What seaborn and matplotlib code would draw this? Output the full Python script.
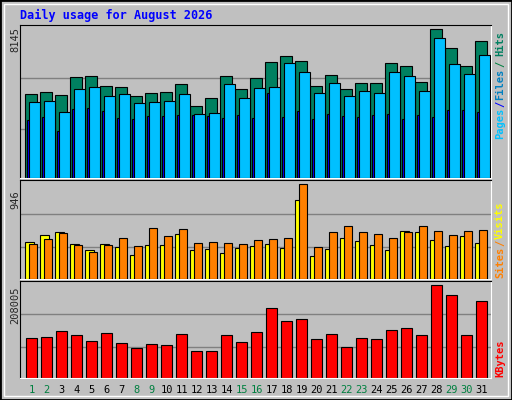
import numpy as np
import matplotlib
matplotlib.use("Agg")
import matplotlib.pyplot as plt
import seaborn as sns
from matplotlib.patches import Rectangle

sns.set_style("white")
plt.rcParams["font.family"] = ["DejaVu Sans Mono", "DejaVu Sans"]

# ── Data ──────────────────────────────────────────────────────────────────
days = list(range(1, 32))
weekend = {1, 2, 8, 9, 15, 16, 22, 23, 29, 30}
HITS_MAX, SITES_MAX, KB_MAX = 8145, 946, 208005

hits_px  = [280,273,283,229,226,256,259,286,277,273,250,316,292,226,265,232,184,166,181,256,223,265,247,247,187,196,244,88,142,196,124]
files_px = [304,301,334,265,259,286,280,307,304,301,280,340,337,250,292,262,259,187,214,277,247,286,271,277,214,226,271,115,190,220,163]
pages_px = [358,349,391,325,322,331,352,355,346,346,343,343,346,352,343,352,277,349,331,355,340,346,349,343,340,355,343,349,328,328,334]
visits_px = [196,175,166,202,220,202,211,232,205,205,172,220,217,226,214,208,202,214,73,235,217,184,193,205,220,163,166,190,208,178,199]
sites_px  = [202,187,169,205,223,205,184,208,154,178,157,199,196,199,202,190,187,184,28,211,166,148,166,172,184,166,148,163,175,163,160]
kb_px = [484,481,463,475,493,469,499,514,502,505,472,523,523,475,496,466,397,433,427,487,472,511,484,487,460,454,475,328,358,475,376]

hits  = [round((530 - p) / 442 * HITS_MAX) for p in hits_px]
files = [round((530 - p) / 442 * HITS_MAX) for p in files_px]
pages = [round((530 - p) / 442 * HITS_MAX) for p in pages_px]
visits = [round((303 - p) / 275 * SITES_MAX) for p in visits_px]
sites  = [round((303 - p) / 275 * SITES_MAX) for p in sites_px]
kbytes = [round((601 - p) / 273 * KB_MAX) for p in kb_px]

GRAY = "#C0C0C0"
fig = plt.figure(figsize=(5.12, 4.0), dpi=100, facecolor=GRAY)
W, H = 512, 400

def axes_px(x0, y0, x1, y1):
    return fig.add_axes([x0 / W, 1 - y1 / H, (x1 - x0) / W, (y1 - y0) / H])

x = np.arange(31)
XL = (-0.353, 31.05)

def style(ax, top):
    ax.set_facecolor(GRAY)
    ax.set_xlim(*XL)
    ax.set_ylim(0, top)
    for f in (0.32, 0.655):
        ax.axhline(top * f, color="#808080", lw=1, zorder=0)
    ax.set_xticks([]); ax.set_yticks([])
    for s in ("left", "top"):
        ax.spines[s].set_color("black")
    for s in ("right", "bottom"):
        ax.spines[s].set_color("white")

kw = dict(align="edge", edgecolor="black", linewidth=0.8)

ax1 = axes_px(20, 25, 491, 178)
style(ax1, HITS_MAX * 455 / 442)
ax1.bar(x, hits, 0.75, color="#008060", zorder=2, **kw)
ax1.bar(x + 0.11, pages, 0.5, color="#0000FF", zorder=3, **kw)
ax1.bar(x + 0.25, files, 0.73, color="#00C0FF", zorder=4, **kw)

ax2 = axes_px(20, 180, 491, 279)
style(ax2, SITES_MAX * 288 / 275)
ax2.bar(x, visits, 0.6, color="#FFFF00", zorder=2, **kw)
ax2.bar(x + 0.25, sites, 0.5, color="#FF8000", zorder=3, **kw)

ax3 = axes_px(20, 281, 491, 378)
style(ax3, KB_MAX * 284 / 273)
ax3.bar(x + 0.07, kbytes, 0.7, color="#FF0000", zorder=2, **kw)

for d in days:
    ax3.text(d - 1 + 0.42, -0.12, str(d), transform=ax3.get_xaxis_transform(),
             ha="center", va="center", fontsize=7.5,
             color="#008040" if d in weekend else "black")

def ft(xp, yp, s, **k):
    fig.text(xp / W, 1 - yp / H, s, **k)

ft(20, 15, "Daily usage for August 2026", color="#0000FF", fontsize=8.5,
   fontweight="bold", va="center")
ft(15, 40, f"{HITS_MAX}", rotation=90, ha="center", va="center", fontsize=7.5)
ft(15, 200, f"{SITES_MAX}", rotation=90, ha="center", va="center", fontsize=7.5)
ft(15, 305, f"{KB_MAX}", rotation=90, ha="center", va="center", fontsize=7.5)

lab = dict(rotation=90, ha="center", va="center", fontsize=7.5, fontweight="bold")
ft(500, 123, "Pages", color="#00C0FF", **lab)
ft(500, 104, "/", color="#0000FF", **lab)
ft(500, 84, "Files", color="#0080C0", **lab)
ft(500, 64, "/", color="#008040", **lab)
ft(500, 44, "Hits", color="#008060", **lab)
ft(500, 262, "Sites", color="#FF8000", **lab)
ft(500, 243, "/", color="#FF8000", **lab)
ft(500, 220, "Visits", color="#FFFF00", **lab)
ft(500, 358, "KBytes", color="#FF0000", **lab)

fig.patches.append(Rectangle((0, 0), 1, 1, transform=fig.transFigure,
                             fill=False, edgecolor="black", lw=2))
fig.patches.append(Rectangle((4 / W, 4 / H), 1 - 8 / W, 1 - 8 / H,
                             transform=fig.transFigure, fill=False,
                             edgecolor="white", lw=1))

fig.savefig("out.png", dpi=100, facecolor=GRAY)
